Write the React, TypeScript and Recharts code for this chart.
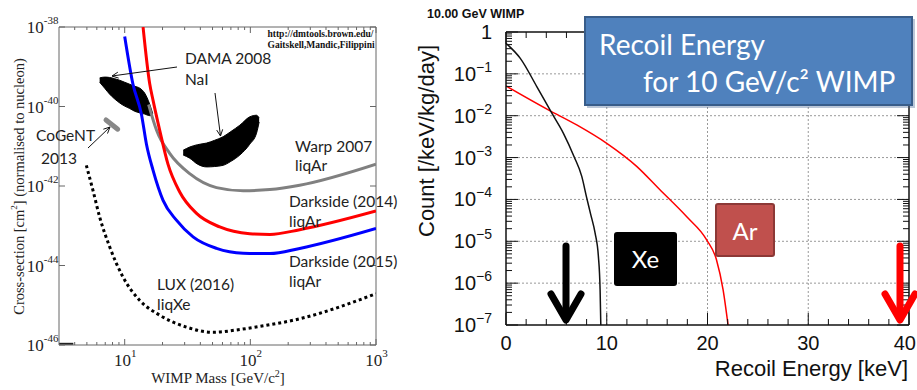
import { Area, ComposedChart, Line, ReferenceLine, XAxis, YAxis } from "recharts";

// ---------- left panel: WIMP-nucleon cross-section limits ----------
// mass in GeV/c², cross-section stored as log10(σ / cm²)
const ds2015Mass  = [10, 11.6, 13.6, 14.9, 16.8, 20.2, 25.8, 35, 53.8, 87.7, 143, 247, 1000];
const ds2015Sigma = [-38.24, -39.42, -40.2, -40.95, -41.6, -42.36, -42.86, -43.28, -43.57, -43.69, -43.7, -43.57, -43.07];

const ds2014Mass  = [14.0, 15.8, 16.8, 19.0, 22.1, 27.4, 37.3, 57.1, 98.9, 143, 247, 1000];
const ds2014Sigma = [-38.0, -39.42, -39.84, -40.6, -41.45, -42.15, -42.69, -43.03, -43.2, -43.22, -43.1, -42.63];

const warpMass  = [15.5, 17.9, 22.8, 32.9, 53.8, 87.7, 143, 247, 1000];
const warpSigma = [-39.95, -40.59, -41.18, -41.69, -42.04, -42.12, -42.09, -41.98, -41.45];

const luxMass  = [4.95, 5.59, 6.32, 7.59, 9.69, 13.2, 19.0, 31.0, 50.5, 82.5, 105, 247, 1000];
const luxSigma = [-41.48, -42.11, -42.78, -43.53, -44.29, -44.88, -45.25, -45.55, -45.68, -45.61, -45.56, -45.34, -44.71];

const cogentMass  = [7.1, 8.8];
const cogentSigma = [-40.34, -40.57];

const floorMass  = [3.0, 3.9];
const floorSigma = [-45.97, -45.97];

// DAMA 2008 allowed regions (lower / upper edge)
const dama1Mass = [6.32, 6.93, 7.59, 8.32, 9.12, 10, 10.96, 12.0, 13.2, 14.4, 15.8, 16.7];
const dama1Lo   = [-39.39, -39.54, -39.69, -39.81, -39.91, -39.99, -40.05, -40.12, -40.16, -40.19, -40.23, -40.22];
const dama1Hi   = [-39.28, -39.26, -39.27, -39.3, -39.34, -39.39, -39.44, -39.49, -39.54, -39.66, -39.94, -40.18];

const dama2Mass = [29.2, 32.9, 38, 44.8, 52, 60.7, 70, 82.5, 98.9, 112, 117.5];
const dama2Lo   = [-41.22, -41.3, -41.45, -41.52, -41.51, -41.48, -41.38, -41.22, -40.95, -40.67, -40.39];
const dama2Hi   = [-41.1, -41.02, -40.96, -40.92, -40.85, -40.76, -40.63, -40.47, -40.26, -40.22, -40.29];

const massTicks  = [4, 5, 6, 7, 8, 9, 10, 20, 30, 40, 50, 60, 70, 80, 90, 100, 200, 300, 400, 500, 600, 700, 800, 900, 1000];
const massLabels = [10, 100, 1000];
const massExp    = ["1", "2", "3"];
const sigmaTicks = [-46, -44, -42, -40, -38];

// ---------- right panel: recoil spectrum, 10 GeV WIMP ----------
// energy in keV, count stored as log10(count / keV/kg/day)
const xeEnergy = [0, 1.42, 3.07, 4.55, 5.7, 6.76, 7.52, 8.0, 8.4, 8.84, 9.17, 9.34, 9.41];
const xeCount  = [-0.27, -0.63, -1.31, -1.94, -2.42, -2.98, -3.45, -3.95, -4.35, -4.8, -5.36, -6.16, -7.0];

const arEnergy = [0, 4.2, 7.02, 10.0, 12.97, 15.28, 17.92, 19.9, 20.89, 21.55, 22.04];
const arCount  = [-1.29, -1.86, -2.22, -2.66, -3.21, -3.77, -4.41, -4.96, -5.44, -6.16, -7.0];

const energyTicks  = [0, 2, 4, 6, 8, 10, 12, 14, 16, 18, 20, 22, 24, 26, 28, 30, 32, 34, 36, 38, 40];
const energyLabels = [0, 10, 20, 30, 40];
const decades      = [-7, -6, -5, -4, -3, -2, -1, 0];
const minorSteps   = [2, 3, 4, 5, 6, 7, 8, 9];
const countTicks   = decades.flatMap((d) => (d < 0 ? [d, ...minorSteps.map((k) => d + Math.log10(k))] : [d]));

const zip = (xs: number[], ys: number[]) => xs.map((x, i) => ({ x, y: ys[i] }));
const band = (xs: number[], lo: number[], hi: number[]) => xs.map((x, i) => ({ x, r: [lo[i], hi[i]] }));

const SERIF = "'Liberation Serif', 'DejaVu Serif', serif";
const SANS = "'Liberation Sans', Arial, sans-serif";
const CAL = "Lato, 'Open Sans', sans-serif";

// plot boxes (chart coords)
const L = { l: 59, r: 376, t: 27, b: 345 };
const R = { l: 86, r: 489, t: 32, b: 325 };
const FRAME = "#666";

function MassTick({ x, payload }: any) {
  const v = payload.value;
  const i = massLabels.indexOf(v);
  const len = i >= 0 ? 6 : 3;
  return (
    <g>
      <line x1={x} x2={x} y1={L.b} y2={L.b - len} stroke={FRAME} />
      <line x1={x} x2={x} y1={L.t} y2={L.t + len} stroke={FRAME} />
      {i >= 0 && (
        <text x={x + 0.5} y={366} textAnchor="middle" fontFamily={SERIF} fontSize={17} fill="#222">
          10<tspan dy={-9} fontSize={11}>{massExp[i]}</tspan>
        </text>
      )}
    </g>
  );
}

function SigmaTick({ y, payload }: any) {
  return (
    <g>
      <line x1={L.l} x2={L.l + 6} y1={y} y2={y} stroke={FRAME} />
      <line x1={L.r} x2={L.r - 6} y1={y} y2={y} stroke={FRAME} />
      <text x={58.5} y={y + 6} textAnchor="end" fontFamily={SERIF} fontSize={17} fill="#222">
        10<tspan dy={-9} fontSize={11}>{String(payload.value)}</tspan>
      </text>
    </g>
  );
}

function EnergyTick({ x, payload }: any) {
  const v = payload.value;
  const major = energyLabels.includes(v);
  const len = major ? 12 : 6;
  const last = v === energyLabels[energyLabels.length - 1];
  return (
    <g>
      <line x1={x} x2={x} y1={R.b} y2={R.b - len} stroke="#111" />
      <line x1={x} x2={x} y1={R.t} y2={R.t + len} stroke="#111" />
      {major && (
        <text x={last ? x + 7 : x} y={350} textAnchor={last ? "end" : "middle"} fontFamily={SANS} fontSize={20} fill="#111">
          {v}
        </text>
      )}
    </g>
  );
}

function CountTick({ y, payload }: any) {
  const v = payload.value;
  const major = Number.isInteger(v);
  const len = major ? 12 : 6;
  return (
    <g>
      <line x1={R.l} x2={R.l + len} y1={y} y2={y} stroke="#111" />
      <line x1={R.r} x2={R.r - len} y1={y} y2={y} stroke="#111" />
      {major && (
        <text x={R.l - 14} y={y + 7} textAnchor="end" fontFamily={SANS} fontSize={20} fill="#111">
          {v === 0 ? "1" : "10"}
          {v !== 0 && <tspan dy={-9} fontSize={14}>{"\u2212" + Math.abs(v)}</tspan>}
        </text>
      )}
    </g>
  );
}

function LimitsChart() {
  return (
    <ComposedChart width={405} height={390} margin={{ top: L.t, right: 405 - L.r, bottom: 390 - L.b - 1, left: L.l - 1 }}>
      <XAxis
        dataKey="x"
        type="number"
        scale="log"
        domain={[3, 1000]}
        allowDataOverflow
        ticks={massTicks}
        interval={0}
        height={1}
        tickLine={false}
        tick={<MassTick />}
        stroke={FRAME}
      />
      <YAxis
        type="number"
        domain={[-46, -38]}
        allowDataOverflow
        ticks={sigmaTicks}
        interval={0}
        width={1}
        tickLine={false}
        tick={<SigmaTick />}
        stroke={FRAME}
      />
      <ReferenceLine y={-38} stroke={FRAME} />
      <ReferenceLine x={1000} stroke={FRAME} />
      <Area data={band(dama1Mass, dama1Lo, dama1Hi)} dataKey="r" type="monotone" fill="#000" fillOpacity={1} stroke="#000" strokeWidth={1} isAnimationActive={false} />
      <Area data={band(dama2Mass, dama2Lo, dama2Hi)} dataKey="r" type="monotone" fill="#000" fillOpacity={1} stroke="#000" strokeWidth={1} isAnimationActive={false} />
      <Line data={zip(cogentMass, cogentSigma)} dataKey="y" stroke="#888" strokeWidth={5} strokeLinecap="round" dot={false} isAnimationActive={false} />
      <Line data={zip(floorMass, floorSigma)} dataKey="y" stroke="#222" strokeWidth={2} dot={false} isAnimationActive={false} />
      <Line data={zip(warpMass, warpSigma)} dataKey="y" type="monotone" stroke="#808080" strokeWidth={3} dot={false} isAnimationActive={false} />
      <Line data={zip(ds2014Mass, ds2014Sigma)} dataKey="y" type="monotone" stroke="#ff0000" strokeWidth={3} dot={false} isAnimationActive={false} />
      <Line data={zip(ds2015Mass, ds2015Sigma)} dataKey="y" type="monotone" stroke="#0000ff" strokeWidth={3} dot={false} isAnimationActive={false} />
      <Line data={zip(luxMass, luxSigma)} dataKey="y" type="monotone" stroke="#000" strokeWidth={3} strokeDasharray="3 3" dot={false} isAnimationActive={false} />
    </ComposedChart>
  );
}

function RecoilChart() {
  return (
    <ComposedChart width={497} height={390} margin={{ top: R.t, right: 497 - R.r, bottom: 390 - R.b - 1, left: R.l - 1 }}>
      <XAxis
        dataKey="x"
        type="number"
        domain={[0, 40]}
        allowDataOverflow
        ticks={energyTicks}
        interval={0}
        height={1}
        tickLine={false}
        tick={<EnergyTick />}
        stroke="#111"
        strokeWidth={1.5}
      />
      <YAxis
        type="number"
        domain={[-7, 0]}
        allowDataOverflow
        ticks={countTicks}
        interval={0}
        width={1}
        tickLine={false}
        tick={<CountTick />}
        stroke="#111"
        strokeWidth={1.5}
      />
      {decades.slice(1, -1).map((d) => (
        <ReferenceLine key={"h" + d} y={d} stroke="#999" strokeDasharray="2 2" />
      ))}
      {energyLabels.slice(1, -1).map((e) => (
        <ReferenceLine key={"v" + e} x={e} stroke="#999" strokeDasharray="2 2" />
      ))}
      <ReferenceLine y={0} stroke="#111" strokeWidth={1.5} />
      <ReferenceLine x={40} stroke="#111" strokeWidth={1.5} />
      <Line data={zip(arEnergy, arCount)} dataKey="y" type="monotone" stroke="#ff0000" strokeWidth={1.5} dot={false} isAnimationActive={false} />
      <Line data={zip(xeEnergy, xeCount)} dataKey="y" type="monotone" stroke="#111" strokeWidth={1.5} dot={false} isAnimationActive={false} />
    </ComposedChart>
  );
}

const arrowHead = (x: number, y: number, ang: number, size = 7) => {
  const a1 = ang + 2.7, a2 = ang - 2.7;
  return `M${x + size * Math.cos(a1)},${y + size * Math.sin(a1)} L${x},${y} L${x + size * Math.cos(a2)},${y + size * Math.sin(a2)}`;
};

function Overlay() {
  const t = { fontFamily: CAL, fontSize: 15.5, fill: "#222" };
  const note = { fontFamily: SERIF, fontSize: 9.5, fill: "#111", fontWeight: 700 };
  return (
    <svg width={917} height={390} style={{ position: "absolute", left: 0, top: 0, pointerEvents: "none" }}>
      {/* left panel annotations */}
      <text x={18.5} y={186.5} transform="rotate(-90 18.5 186.5)" textAnchor="middle" dominantBaseline="central" fontFamily={SERIF} fontSize={14.5} fill="#222">
        Cross-section [cm<tspan dy={-5} fontSize={9}>2</tspan><tspan dy={5}>] (normalised to nucleon)</tspan>
      </text>
      <text x={218} y={383} textAnchor="middle" fontFamily={SERIF} fontSize={15} fill="#222">
        WIMP Mass [GeV/c<tspan dy={-6} fontSize={10}>2</tspan><tspan dy={6}>]</tspan>
      </text>
      <text x={267.5} y={37} {...note}>http://dmtools.brown.edu/</text>
      <text x={267.5} y={48} {...note}>Gaitskell,Mandic,Filippini</text>

      <text x={185} y={64} {...t}>DAMA 2008</text>
      <text x={185} y={85} {...t}>NaI</text>
      <line x1={177} y1={67} x2={112} y2={76} stroke="#111" />
      <path d={arrowHead(112, 76, Math.atan2(76 - 67, 112 - 177))} stroke="#111" fill="none" />
      <line x1={215} y1={93} x2={220.5} y2={136} stroke="#111" />
      <path d={arrowHead(220.5, 136, Math.atan2(136 - 93, 220.5 - 215))} stroke="#111" fill="none" />

      <text x={36} y={141} {...t}>CoGeNT</text>
      <text x={41} y={164} {...t}>2013</text>
      <line x1={88} y1={148} x2={110} y2={127} stroke="#111" />
      <path d={arrowHead(110, 127, Math.atan2(127 - 148, 110 - 88))} stroke="#111" fill="none" />

      <text x={295} y={152} {...t}>Warp 2007</text>
      <text x={295} y={171} {...t}>liqAr</text>
      <text x={289} y={207} {...t}>Darkside (2014)</text>
      <text x={289} y={227} {...t}>liqAr</text>
      <text x={289} y={267} {...t}>Darkside (2015)</text>
      <text x={289} y={287} {...t}>liqAr</text>
      <text x={157} y={290} {...t}>LUX (2016)</text>
      <text x={157} y={310} {...t}>liqXe</text>

      {/* right panel annotations */}
      <text x={427} y={18} fontFamily={SANS} fontWeight={700} fontSize={12.5} fill="#111">10.00 GeV WIMP</text>
      <text x={426} y={141} transform="rotate(-90 426 141)" textAnchor="middle" dominantBaseline="central" fontFamily={SANS} fontSize={22} fill="#111">
        Count [/keV/kg/day]
      </text>
      <text x={908} y={376} textAnchor="end" fontFamily={SANS} fontSize={22} fill="#111">Recoil Energy [keV]</text>

      <rect x={587} y={19} width={328} height={89} fill="#3b5f8f" opacity={0.35} />
      <rect x={585} y={17} width={327} height={88} fill="#4f81bd" stroke="#385d8a" strokeWidth={2} />
      <text x={599} y={55} fontFamily={CAL} fontSize={28} fill="#fff">Recoil Energy</text>
      <text x={643} y={92} fontFamily={CAL} fontSize={28} fill="#fff">for 10 GeV/c² WIMP</text>

      <rect x={614} y={232} width={63} height={54} rx={3} fill="#000" />
      <text x={645.5} y={268} textAnchor="middle" fontFamily={CAL} fontSize={24} fill="#fff">Xe</text>
      <rect x={716} y={204} width={58} height={52} rx={2} fill="#c0504d" stroke="#8c3836" strokeWidth={2} />
      <text x={745} y={240} textAnchor="middle" fontFamily={CAL} fontSize={24} fill="#fff">Ar</text>

      <g stroke="#000" strokeWidth={7} fill="none" strokeLinecap="round" strokeLinejoin="round">
        <line x1={566} y1={246} x2={566} y2={318} />
        <polyline points="551,294 566,320 581,294" />
      </g>
      <g stroke="#ff0000" strokeWidth={7} fill="none" strokeLinecap="round" strokeLinejoin="round">
        <line x1={900} y1={246} x2={900} y2={318} />
        <polyline points="885,294 900,320 915,294" />
      </g>
    </svg>
  );
}

export default function App() {
  return (
    <div style={{ position: "absolute", left: 0, top: 0, width: 917, height: 390, background: "#fff", overflow: "hidden" }}>
      <div style={{ position: "absolute", left: 0, top: 0 }}>
        <LimitsChart />
      </div>
      <div style={{ position: "absolute", left: 420, top: 0 }}>
        <RecoilChart />
      </div>
      <Overlay />
    </div>
  );
}
